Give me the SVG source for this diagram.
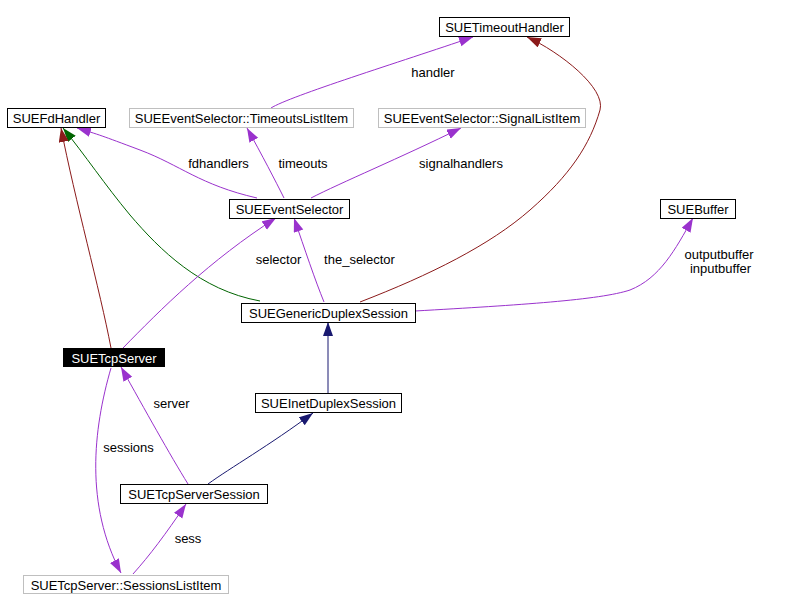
<svg xmlns="http://www.w3.org/2000/svg" width="788" height="612" viewBox="0 0 788 612">
<style>
text{font-family:"Liberation Sans",Arial,sans-serif;font-size:13px;fill:#000;text-anchor:middle}
.n rect{fill:#fff;stroke:#000;stroke-width:1}
.g rect{fill:#fff;stroke:#bfbfbf;stroke-width:1}
.e path{fill:none;stroke-width:1}
.u{stroke:#9a32cd}
.r{stroke:#8b1a1a}
.gr{stroke:#006400}
.b{stroke:#191970}
</style>
<defs>
<marker id="au" markerUnits="userSpaceOnUse" markerWidth="15" markerHeight="11" refX="14" refY="5" orient="auto"><path d="M0,0 L14,5 L0,10 z" fill="#9a32cd"/></marker>
<marker id="ar" markerUnits="userSpaceOnUse" markerWidth="15" markerHeight="11" refX="14" refY="5" orient="auto"><path d="M0,0 L14,5 L0,10 z" fill="#8b1a1a"/></marker>
<marker id="ag" markerUnits="userSpaceOnUse" markerWidth="15" markerHeight="11" refX="14" refY="5" orient="auto"><path d="M0,0 L14,5 L0,10 z" fill="#006400"/></marker>
<marker id="ab" markerUnits="userSpaceOnUse" markerWidth="15" markerHeight="11" refX="14" refY="5" orient="auto"><path d="M0,0 L14,5 L0,10 z" fill="#191970"/></marker>
</defs>
<rect width="788" height="612" fill="#fff"/>
<g id="connectors" class="e">
<path class="u" d="M271,108 C290,96 400,62 473,37" marker-end="url(#au)"/>
<path class="u" d="M257,198 C200,185 180,165 140,150 S100,135 77,128" marker-end="url(#au)"/>
<path class="u" d="M284,198 C275,180 262,155 247,128" marker-end="url(#au)"/>
<path class="u" d="M311,198 C340,183 400,158 461,128" marker-end="url(#au)"/>
<path class="r" d="M360,302 C430,275 490,245 530,210 C570,175 590,145 600,110 C606,88 560,52 527,37" marker-end="url(#ar)"/>
<path class="gr" d="M260,301 C200,290 160,250 130,215 C105,185 85,155 63,128" marker-end="url(#ag)"/>
<path class="r" d="M111,348 C100,290 75,200 61,128" marker-end="url(#ar)"/>
<path class="u" d="M123,348 C160,310 210,260 276,218" marker-end="url(#au)"/>
<path class="u" d="M324,302 C315,280 305,250 294,218" marker-end="url(#au)"/>
<path class="u" d="M415,311 C520,305 600,300 630,290 C660,278 675,250 693,218" marker-end="url(#au)"/>
<path class="b" d="M328,393 L328,322" marker-end="url(#ab)"/>
<path class="b" d="M208,484 C230,468 270,445 313,413" marker-end="url(#ab)"/>
<path class="u" d="M188,484 C170,455 145,410 121,367" marker-end="url(#au)"/>
<path class="u" d="M111,368 C93,430 85,505 121,573" marker-end="url(#au)"/>
<path class="u" d="M133,574 C150,555 165,535 186,504" marker-end="url(#au)"/>
<text x="433" y="77">handler</text>
<text x="218.5" y="168">fdhandlers</text>
<text x="303" y="168">timeouts</text>
<text x="461" y="168">signalhandlers</text>
<text x="278.5" y="264">selector</text>
<text x="359.5" y="264">the_selector</text>
<text x="719" y="259">outputbuffer</text>
<text x="720.5" y="273">inputbuffer</text>
<text x="171.5" y="408">server</text>
<text x="128.5" y="452">sessions</text>
<text x="188" y="543">sess</text>
</g>
<g id="SUETimeoutHandler" class="n"><rect x="439.5" y="17.5" width="130" height="19"/><text x="504.5" y="32">SUETimeoutHandler</text></g>
<g id="SUEFdHandler" class="n"><rect x="7.5" y="108.5" width="98" height="19"/><text x="56.5" y="123">SUEFdHandler</text></g>
<g id="TimeoutsListItem" class="g"><rect x="129.5" y="108.5" width="224" height="19"/><text x="241.5" y="123">SUEEventSelector::TimeoutsListItem</text></g>
<g id="SignalListItem" class="g"><rect x="378.5" y="108.5" width="207" height="19"/><text x="482" y="123">SUEEventSelector::SignalListItem</text></g>
<g id="SUEEventSelector" class="n"><rect x="229.5" y="199.5" width="120" height="19"/><text x="289.5" y="214">SUEEventSelector</text></g>
<g id="SUEBuffer" class="n"><rect x="660.5" y="199.5" width="75" height="19"/><text x="698" y="214">SUEBuffer</text></g>
<g id="SUEGenericDuplexSession" class="n"><rect x="241.5" y="303.5" width="174" height="19"/><text x="328.5" y="318">SUEGenericDuplexSession</text></g>
<g id="SUETcpServer"><rect x="63" y="348" width="102" height="19" fill="#000"/><text x="114" y="362.5" style="fill:#fff">SUETcpServer</text></g>
<g id="SUEInetDuplexSession" class="n"><rect x="255.5" y="393.5" width="146" height="19"/><text x="328.5" y="408">SUEInetDuplexSession</text></g>
<g id="SUETcpServerSession" class="n"><rect x="120.5" y="484.5" width="147" height="19"/><text x="194" y="499">SUETcpServerSession</text></g>
<g id="SessionsListItem" class="g"><rect x="23.5" y="575.5" width="205" height="18"/><text x="126" y="589.5">SUETcpServer::SessionsListItem</text></g>
</svg>
